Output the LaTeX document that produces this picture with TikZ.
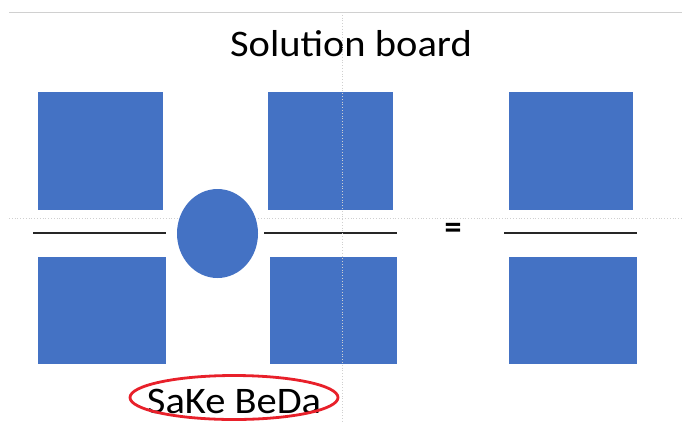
\documentclass[tikz,border=0pt]{standalone}
\usepackage{fontspec}
\setmainfont{Carlito}
\usetikzlibrary{shapes.geometric}
\definecolor{tileblue}{HTML}{4472C4}
\definecolor{ringred}{HTML}{E8202A}
\definecolor{guidegray}{HTML}{D0D0D0}
\begin{document}
\begin{tikzpicture}[x=1pt,y=-1pt,
  tile/.style={fill=tileblue,draw=none,inner sep=0pt,outer sep=0pt},
  bar/.style={line width=1.6pt,draw=black!85},
  guide/.style={draw=guidegray,line width=0.8pt},
  label/.style={inner sep=0pt,anchor=base,xscale=1.08,font=\fontsize{37.5}{40}\selectfont}]
\useasboundingbox (0,0) rectangle (682,421);
% layout guides
\draw[guide] (9,12) -- (682,12);
\draw[guide,dotted] (9,218) -- (682,218);
% title
\node[label] (title) at (351,56) {Solution board};
% numerators
\node[tile,minimum width=125pt,minimum height=118pt] (n1) at (100.5,151) {};
\node[tile,minimum width=125pt,minimum height=118pt] (n2) at (330.5,151) {};
\node[tile,minimum width=124pt,minimum height=118pt] (n3) at (571,151) {};
% fraction bars
\draw[bar] (33,233) coordinate (b1l) -- (166,233) coordinate (b1r);
\draw[bar] (264,233) coordinate (b2l) -- (397,233) coordinate (b2r);
\draw[bar] (504,233) coordinate (b3l) -- (637,233) coordinate (b3r);
% denominators
\node[tile,minimum width=128pt,minimum height=107pt] (d1) at (102,310.5) {};
\node[tile,minimum width=127pt,minimum height=107pt] (d2) at (333.5,310.5) {};
\node[tile,minimum width=128pt,minimum height=107pt] (d3) at (573,310.5) {};
% operator between the fractions
\node[tile,ellipse,minimum width=81pt,minimum height=89pt] (op) at (217.5,233.5) {};
% equals sign
\node[inner sep=0pt,font=\fontsize{34}{34}\selectfont\bfseries] (eq) at (453,231) {=};
% vertical guide
\draw[guide,dotted] (342,12) -- (342,421);
% caption and its ring
\node[label] (cap) at (234,413) {SaKe BeDa};
\draw[ringred,line width=2.8pt] (234,397.5) ellipse [x radius=104pt,y radius=22pt];
\end{tikzpicture}
\end{document}
